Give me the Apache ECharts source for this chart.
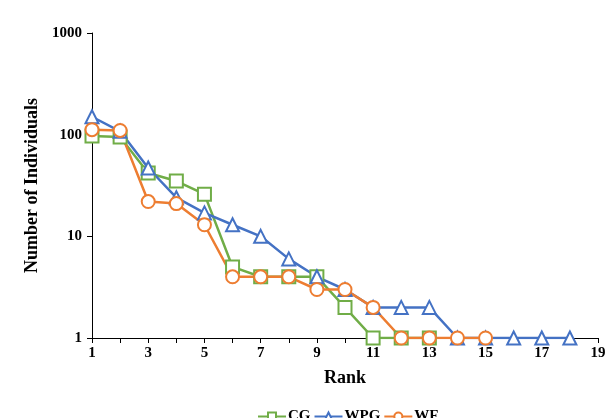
<!DOCTYPE html>
<html>
<head>
<meta charset="utf-8">
<script src="https://cdn.jsdelivr.net/npm/echarts@6/dist/echarts.min.js"></script>
<style>
  html, body { margin: 0; padding: 0; background: #fff; }
  #chart { width: 609px; height: 418px; }
</style>
</head>
<body>
<div id="chart"></div>
<script>
// rank-abundance data
const ranksCG = [1, 2, 3, 4, 5, 6, 7, 8, 9, 10, 11, 12, 13];
const valuesCG = [97, 95, 42, 35, 26, 5, 4, 4, 4, 2, 1, 1, 1];
const ranksWPG = [1, 2, 3, 4, 5, 6, 7, 8, 9, 10, 11, 12, 13, 14, 15, 16, 17, 18];
const valuesWPG = [150, 108, 47, 24, 17, 13, 10, 6, 4, 3, 2, 2, 2, 1, 1, 1, 1, 1];
const ranksWF = [1, 2, 3, 4, 5, 6, 7, 8, 9, 10, 11, 12, 13, 14, 15];
const valuesWF = [112, 110, 22, 21, 13, 4, 4, 4, 3, 3, 2, 1, 1, 1, 1];
const colors = ['#70ad47', '#4472c4', '#ed7d31'];

const font = 'Liberation Serif';

function pairs(xs, ys) {
  return xs.map((x, i) => [x, ys[i]]);
}

function lineSeries(name, data, symbol, color) {
  return {
    name: name,
    type: 'line',
    data: data,
    symbol: symbol,
    symbolSize: 13,
    showAllSymbol: true,
    itemStyle: { color: '#fff', borderColor: color, borderWidth: 2 },
    lineStyle: { color: color, width: 2.5 },
    emphasis: { disabled: true }
  };
}

const chart = echarts.init(document.getElementById('chart'));
chart.setOption({
  animation: false,
  grid: { left: 92, right: 11, top: 33, bottom: 80 },
  legend: {
    top: 404,
    left: 252,
    itemWidth: 28,
    itemHeight: 10,
    itemGap: 3,
    textStyle: { fontFamily: font, fontWeight: 'bold', fontSize: 15, color: '#000', padding: [0, 0, 0, -3] },
    data: ['CG', 'WPG', 'WF']
  },
  xAxis: {
    type: 'value',
    min: 1,
    max: 19,
    interval: 1,
    name: 'Rank',
    nameLocation: 'middle',
    nameGap: 31,
    nameTextStyle: { fontFamily: font, fontWeight: 'bold', fontSize: 18, color: '#000', verticalAlign: 'top' },
    axisLine: { lineStyle: { color: '#000', width: 1 } },
    axisTick: { inside: false, length: 5, lineStyle: { color: '#000' } },
    splitLine: { show: false },
    axisLabel: {
      fontFamily: font, fontWeight: 'bold', fontSize: 15, color: '#000', margin: 8,
      formatter: v => (v % 2 === 1 ? String(v) : '')
    }
  },
  yAxis: {
    type: 'log',
    logBase: 10,
    min: 1,
    max: 1000,
    name: 'Number of Individuals',
    nameLocation: 'middle',
    nameGap: 45,
    nameTextStyle: { fontFamily: font, fontWeight: 'bold', fontSize: 18, color: '#000' },
    axisLine: { show: true, lineStyle: { color: '#000', width: 1 } },
    axisTick: { show: true, length: 5, lineStyle: { color: '#000' } },
    splitLine: { show: false },
    axisLabel: {
      fontFamily: font, fontWeight: 'bold', fontSize: 15, color: '#000', margin: 10,
      formatter: v => String(Math.round(v))
    }
  },
  series: [
    lineSeries('CG', pairs(ranksCG, valuesCG), 'rect', colors[0]),
    lineSeries('WPG', pairs(ranksWPG, valuesWPG), 'triangle', colors[1]),
    lineSeries('WF', pairs(ranksWF, valuesWF), 'circle', colors[2])
  ]
});
</script>
</body>
</html>
